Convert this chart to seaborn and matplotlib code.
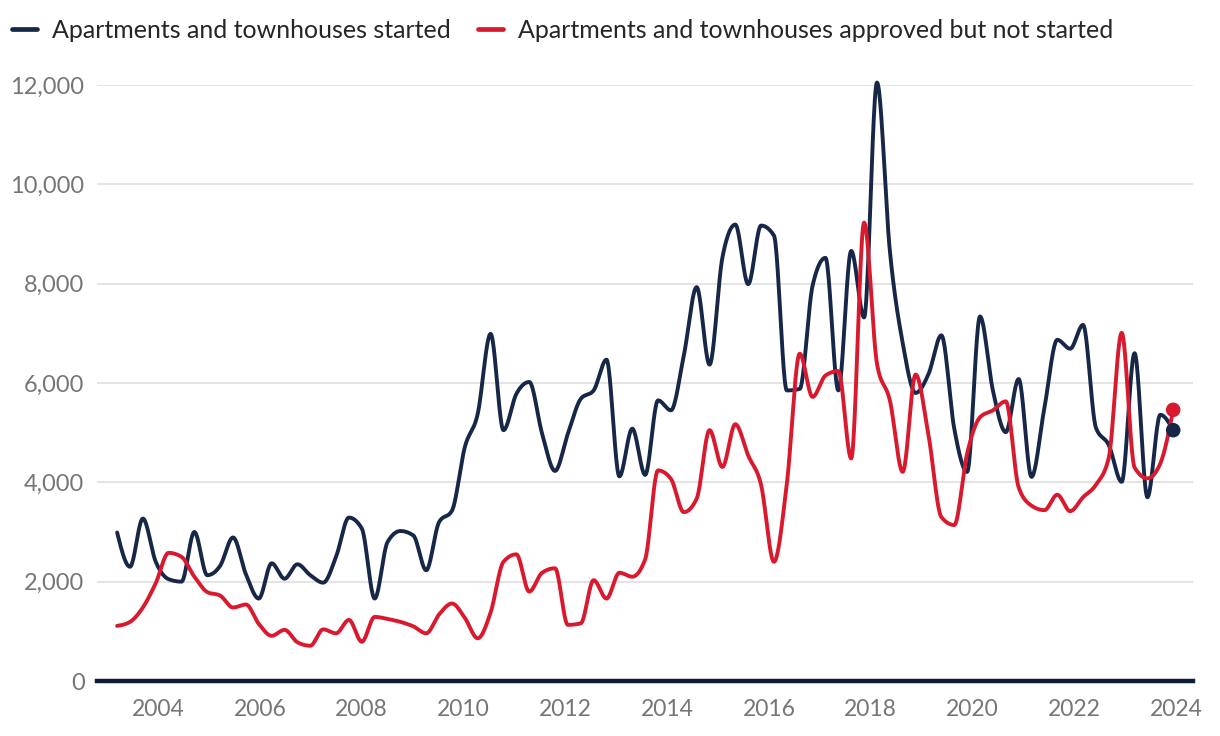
import numpy as np
import pandas as pd
import matplotlib
matplotlib.use("Agg")
import matplotlib.pyplot as plt
import seaborn as sns

# ---- data ----
series_started = "Apartments and townhouses started"
series_approved = "Apartments and townhouses approved but not started"

# x positions of the 83 data points, in decimal years (first and last)
first_period = 2003.195
last_period = 2023.941
n_periods = 83

started = [
    2990, 2300, 3270, 2400, 2050, 2000, 3000, 2130, 2320, 2890,
    2150, 1660, 2370, 2060, 2350, 2130, 1980, 2500, 3290, 3070,
    1660, 2800, 3020, 2930, 2230, 3200, 3430, 4710, 5380, 6990,
    5050, 5780, 6020, 4980, 4230, 4980, 5680, 5850, 6470, 4120,
    5080, 4150, 5650, 5450, 6550, 7930, 6370, 8530, 9190, 7990,
    9170, 8970, 5850, 5880, 7960, 8520, 5850, 8660, 7320, 12050,
    8660, 6800, 5800, 6180, 6960, 5080, 4210, 7340, 5850, 5010,
    6080, 4110, 5500, 6870, 6690, 7170, 5100, 4750, 4010, 6600,
    3700, 5360, 5050,
]

approved = [
    1110, 1190, 1480, 1970, 2580, 2500, 2100, 1790, 1720, 1480,
    1540, 1150, 910, 1030, 780, 710, 1040, 960, 1230, 790,
    1290, 1250, 1190, 1100, 960, 1340, 1560, 1270, 860, 1380,
    2400, 2550, 1800, 2180, 2270, 1130, 1160, 2030, 1660, 2180,
    2100, 2450, 4240, 4070, 3400, 3670, 5050, 4310, 5170, 4540,
    3950, 2400, 3970, 6590, 5720, 6150, 6240, 4480, 9230, 6390,
    5650, 4210, 6170, 4950, 3300, 3140, 4580, 5310, 5450, 5630,
    3900, 3530, 3440, 3750, 3420, 3700, 3950, 4500, 7010, 4300,
    4080, 4380, 5460,
]

y_ticks = [0, 2000, 4000, 6000, 8000, 10000, 12000]
x_ticks = [2004, 2006, 2008, 2010, 2012, 2014, 2016, 2018, 2020, 2022, 2024]

NAVY = "#172748"
RED = "#d9192e"


def monotone_curve(x, y, steps=24):
    """Monotone cubic (d3 curveMonotoneX style) path through the data points."""
    x = np.asarray(x, float)
    y = np.asarray(y, float)
    h = np.diff(x)
    s = np.diff(y) / h
    t = np.zeros_like(y)
    sign = lambda v: np.where(v < 0, -1.0, 1.0)
    for i in range(1, len(y) - 1):
        p = (s[i - 1] * h[i] + s[i] * h[i - 1]) / (h[i - 1] + h[i])
        t[i] = (sign(s[i - 1]) + sign(s[i])) * min(abs(s[i - 1]), abs(s[i]), 0.5 * abs(p))
    t[0] = (3 * s[0] - t[1]) / 2
    t[-1] = (3 * s[-1] - t[-2]) / 2
    xs, ys = [], []
    for i in range(len(y) - 1):
        u = np.linspace(0, 1, steps, endpoint=False)
        h00 = 2 * u**3 - 3 * u**2 + 1
        h10 = u**3 - 2 * u**2 + u
        h01 = -2 * u**3 + 3 * u**2
        h11 = u**3 - u**2
        xs.append(x[i] + u * h[i])
        ys.append(h00 * y[i] + h10 * h[i] * t[i] + h01 * y[i + 1] + h11 * h[i] * t[i + 1])
    xs.append([x[-1]])
    ys.append([y[-1]])
    return np.concatenate(xs), np.concatenate(ys)


periods = np.linspace(first_period, last_period, n_periods)

frames = []
for name, vals in [(series_started, started), (series_approved, approved)]:
    cx, cy = monotone_curve(periods, vals)
    frames.append(pd.DataFrame({"year": cx, "value": cy, "series": name}))
curve_df = pd.concat(frames, ignore_index=True)

end_df = pd.DataFrame({
    "year": [periods[-1], periods[-1]],
    "value": [approved[-1], started[-1]],
    "series": [series_approved, series_started],
})

# ---- plotting ----
sns.set_theme(style="white")
plt.rcParams["font.family"] = ["Lato", "DejaVu Sans"]

fig = plt.figure(figsize=(12.2, 7.36), dpi=100)
ax = fig.add_axes([97 / 1220, 1 - 681 / 736, (1193 - 97) / 1220, (681 - 85) / 736])

palette = {series_started: NAVY, series_approved: RED}
sns.lineplot(data=curve_df, x="year", y="value", hue="series", palette=palette,
             hue_order=[series_started, series_approved],
             estimator=None, sort=False, linewidth=2.8, ax=ax, legend=True)
for line in ax.lines:
    line.set_clip_on(False)
    line.set_solid_capstyle("round")
    line.set_solid_joinstyle("round")

sns.scatterplot(data=end_df, x="year", y="value", hue="series", palette=palette,
                s=110, edgecolor="none", ax=ax, legend=False, zorder=5, clip_on=False)

ax.set_xlim(2002.80, 2024.33)
ax.set_ylim(0, 12000)
ax.set_yticks(y_ticks)
ax.set_yticklabels([f"{v:,}" for v in y_ticks])
ax.set_xticks(x_ticks)
ax.set_xticklabels([str(v) for v in x_ticks])
ax.set_xlabel("")
ax.set_ylabel("")

ax.grid(axis="y", color="#e4e4e4", linewidth=1.4)
ax.grid(axis="x", visible=False)
ax.set_axisbelow(True)
for side in ["left", "right", "top"]:
    ax.spines[side].set_visible(False)
ax.spines["bottom"].set_color("#0f1b3a")
ax.spines["bottom"].set_linewidth(3.2)
ax.spines["bottom"].set_zorder(6)

ax.tick_params(axis="y", length=0, pad=9, labelsize=17, labelcolor="#767676")
ax.tick_params(axis="x", length=0, pad=13, labelsize=16.5, labelcolor="#767676")

handles, labels = ax.get_legend_handles_labels()
ax.get_legend().remove()
for hnd in handles:
    hnd.set_linewidth(3.4)
fig.legend(handles, labels, loc="center left", bbox_to_anchor=(-0.0085, 1 - 30 / 736),
           ncol=2, frameon=False, fontsize=18, handlelength=1.0, handletextpad=0.6,
           columnspacing=1.1, labelcolor="#262626")

fig.savefig("out.png", dpi=100)
